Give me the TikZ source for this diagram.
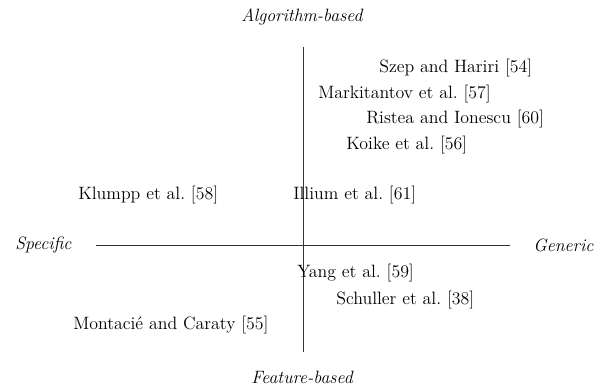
\documentclass[tikz,border=0pt]{standalone}
\begin{document}
\begin{tikzpicture}[x=0.7pt,y=-0.7pt,
  lbl/.style={inner sep=0pt, anchor=west, font=\fontsize{12.5}{15}\selectfont},
  axlbl/.style={inner sep=0pt, font=\fontsize{12.5}{15}\selectfont\itshape},
  axis/.style={line width=0.6pt, draw=black!80}]
\useasboundingbox (0,0) rectangle (605,388);
\node[axlbl] (alg) at (302,17) {Algorithm-based};
\node[axlbl] (feat) at (302,377) {Feature-based};
\node[axlbl, anchor=west] (spec) at (15,245) {Specific};
\node[axlbl, anchor=west] (gen) at (533,245) {Generic};
\coordinate (vt) at (303,47);
\coordinate (vb) at (303,352);
\coordinate (hl) at (96,245);
\coordinate (hr) at (510,245);
\draw[axis] (vt) -- (vb);
\draw[axis] (hl) -- (hr);
\node[lbl] (szep) at (379,68) {Szep and Hariri [54]};
\node[lbl] (mark) at (318,94) {Markitantov et al.\ [57]};
\node[lbl] (rist) at (366,119) {Ristea and Ionescu [60]};
\node[lbl] (koik) at (346,145) {Koike et al.\ [56]};
\node[lbl] (klum) at (78,195) {Klumpp et al.\ [58]};
\node[lbl] (illi) at (293,195) {Illium et al.\ [61]};
\node[lbl] (yang) at (297,273) {Yang et al.\ [59]};
\node[lbl] (schu) at (336,300) {Schuller et al.\ [38]};
\node[lbl] (mont) at (73,325) {Montacié and Caraty [55]};
\end{tikzpicture}
\end{document}
